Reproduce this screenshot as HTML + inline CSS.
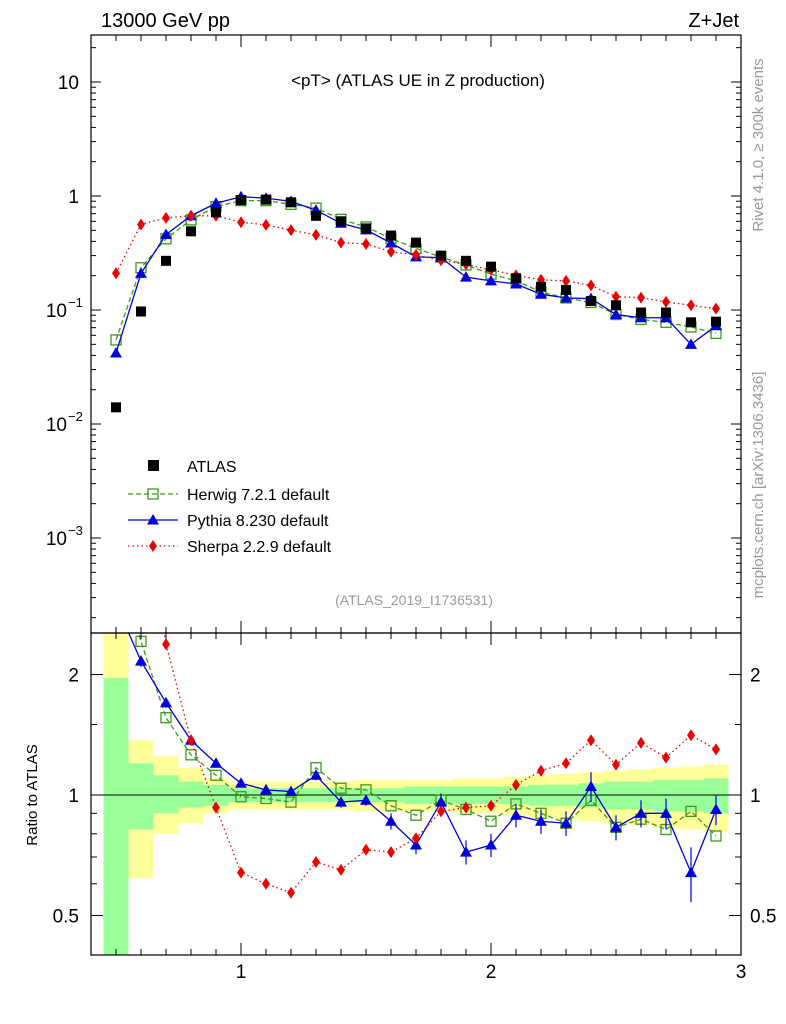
<!DOCTYPE html>
<html><head><meta charset="utf-8"><style>
body{margin:0;background:#fff;}
svg{display:block;font-family:"Liberation Sans",sans-serif;}
</style></head><body>
<svg id="c" width="786" height="1024" xmlns="http://www.w3.org/2000/svg"></svg>
<script>
const xs=[0.5,0.6,0.7,0.8,0.9,1.0,1.1,1.2,1.3,1.4,1.5,1.6,1.7,1.8,1.9,2.0,2.1,2.2,2.3,2.4,2.5,2.6,2.7,2.8,2.9];
const atlas=[0.014,0.097,0.27,0.49,0.72,0.92,0.93,0.88,0.67,0.60,0.52,0.45,0.39,0.30,0.27,0.24,0.19,0.16,0.15,0.12,0.11,0.095,0.095,0.078,0.079];
const herwigRatio=[3.9,2.42,1.56,1.26,1.12,0.99,0.98,0.96,1.17,1.04,1.03,0.94,0.89,0.97,0.92,0.86,0.95,0.90,0.85,0.97,0.83,0.87,0.82,0.91,0.79];
const pythiaRatio=[3.0,2.16,1.70,1.37,1.20,1.07,1.03,1.02,1.12,0.96,0.97,0.86,0.75,0.96,0.72,0.75,0.89,0.86,0.85,1.05,0.83,0.90,0.90,0.64,0.92];
const pythiaErr=[0.08,0.07,0.05,0.04,0.03,0.02,0.02,0.02,0.03,0.03,0.03,0.04,0.04,0.05,0.05,0.05,0.06,0.06,0.06,0.09,0.06,0.07,0.08,0.1,0.08];
const sherpaRatio=[15,5.8,2.38,1.37,0.93,0.64,0.60,0.57,0.68,0.65,0.73,0.72,0.78,0.91,0.93,0.94,1.06,1.15,1.20,1.37,1.19,1.35,1.24,1.41,1.30];
const yellowUp=[3,1.37,1.25,1.17,1.1,1.08,1.08,1.08,1.08,1.08,1.09,1.09,1.09,1.09,1.1,1.1,1.11,1.12,1.13,1.14,1.15,1.16,1.17,1.18,1.19];
const yellowLo=[0.3,0.62,0.8,0.85,0.9,0.92,0.92,0.92,0.92,0.92,0.91,0.91,0.91,0.91,0.9,0.9,0.89,0.88,0.87,0.86,0.85,0.84,0.83,0.82,0.81];
const greenUp=[1.96,1.2,1.12,1.08,1.06,1.04,1.04,1.04,1.04,1.04,1.04,1.04,1.05,1.05,1.05,1.05,1.05,1.06,1.06,1.07,1.08,1.08,1.09,1.09,1.1];
const greenLo=[0.3,0.82,0.9,0.93,0.94,0.96,0.96,0.96,0.96,0.96,0.96,0.96,0.95,0.95,0.95,0.95,0.95,0.94,0.94,0.93,0.92,0.92,0.91,0.91,0.9];
const NS="http://www.w3.org/2000/svg",svg=document.getElementById('c');
const X=v=>241+(v-1)*250;
const Y=v=>196-Math.log10(v)*114;
const R=v=>795-Math.log2(v)*120.5;
function el(t,a,p){const e=document.createElementNS(NS,t);for(const k in a)e.setAttribute(k,a[k]);(p||svg).appendChild(e);return e;}
function txt(s,a){const e=el('text',a);e.textContent=s;return e;}
// clips
const defs=el('defs',{});
const c1=el('clipPath',{id:'cm'},defs);el('rect',{x:91,y:35,width:650,height:598},c1);
const c2=el('clipPath',{id:'cr'},defs);el('rect',{x:91,y:633,width:650,height:322},c2);
const gm=el('g',{'clip-path':'url(#cm)'});
const gr=el('g',{'clip-path':'url(#cr)'});


// bands
xs.forEach((x,i)=>{
 let r=el('rect',{x:X(x-0.05),y:R(yellowUp[i]),width:25,height:R(yellowLo[i])-R(yellowUp[i]),fill:'#ffff99'},gr);
 
 r=el('rect',{x:X(x-0.05),y:R(greenUp[i]),width:25,height:R(greenLo[i])-R(greenUp[i]),fill:'#99ff99'},gr);
 
});
el('line',{x1:91,x2:741,y1:R(1),y2:R(1),stroke:'#000','stroke-width':1},gr);
// series
const ser=[
 {n:'herwig',r:herwigRatio,c:'#3a9a1a',d:'5,3',m:'sq'},
 {n:'pythia',r:pythiaRatio,c:'#0000dd',d:'',m:'tri'},
 {n:'sherpa',r:sherpaRatio,c:'#ee0000',d:'1.5,3',m:'dia'}];
function marker(g,m,c,x,y,name){
 let e;
 if(m==='sq')e=el('rect',{x:x-5,y:y-5,width:10,height:10,fill:'none',stroke:c,'stroke-width':1.3},g);
 else if(m==='tri')e=el('path',{d:`M${x},${y-6}L${x+6},${y+4.5}L${x-6},${y+4.5}Z`,fill:c},g);
 else e=el('path',{d:`M${x},${y-6}L${x+4},${y}L${x},${y+6}L${x-4},${y}Z`,fill:c},g);
 
}
ser.forEach(s=>{
 const mv=s.r.map((r,i)=>r*atlas[i]);
 let p1=el('polyline',{points:xs.map((x,i)=>X(x)+','+Y(mv[i])).join(' '),fill:'none',stroke:s.c,'stroke-width':1.3,'stroke-dasharray':s.d},gm);
 
 let p2=el('polyline',{points:xs.map((x,i)=>X(x)+','+R(s.r[i])).join(' '),fill:'none',stroke:s.c,'stroke-width':1.3,'stroke-dasharray':s.d},gr);
 
 xs.forEach((x,i)=>{
  marker(gm,s.m,s.c,X(x),Y(mv[i]),s.n+'-point');
  if(s.n==='pythia'){el('line',{x1:X(x),x2:X(x),y1:R(s.r[i]+pythiaErr[i]),y2:R(s.r[i]-pythiaErr[i]),stroke:s.c,'stroke-width':1.2},gr);}
  marker(gr,s.m,s.c,X(x),R(s.r[i]),s.n+'-ratio-point');
 });
});
xs.forEach((x,i)=>{const e=el('rect',{x:X(x)-5,y:Y(atlas[i])-5,width:10,height:10,fill:'#000'},gm);
 });
// frames
el('rect',{x:91,y:35,width:650,height:598,fill:'none',stroke:'#000','stroke-width':1.2});
el('rect',{x:91,y:633,width:650,height:322,fill:'none',stroke:'#000','stroke-width':1.2});
// log ticks main
for(let d=-4;d<=1;d++){for(let k=1;k<10;k++){const v=k*Math.pow(10,d);const y=Y(v);if(y<35||y>633)continue;const L=k===1?10:5;
 el('line',{x1:91,x2:91+L,y1:y,y2:y,stroke:'#000'});el('line',{x1:741,x2:741-L,y1:y,y2:y,stroke:'#000'});}}
const ytl=[[10,'10'],[1,'1'],[0.1,'10'],[0.01,'10'],[0.001,'10']];const yex=['','','−1','−2','−3'];
ytl.forEach((t,i)=>{const y=Y(t[0]);const e=txt(t[1],{x:yex[i]?67:79,y:y+7,'font-size':19,'text-anchor':'end'});
 
 if(yex[i]){const s=txt(yex[i],{x:68,y:y-3,'font-size':13});}});
// x ticks
for(let v=0.4;v<=3.001;v+=0.1){const x=X(v);const maj=Math.abs(v-Math.round(v))<0.01;const L=maj?12:6;
 [[633,-1],[955,-1]].forEach(([b,s])=>el('line',{x1:x,x2:x,y1:b,y2:b+s*L,stroke:'#000'}));
 el('line',{x1:x,x2:x,y1:35,y2:35+L,stroke:'#000'});el('line',{x1:x,x2:x,y1:633,y2:633+L,stroke:'#000'});}
[1,2,3].forEach(v=>{const e=txt(String(v),{x:X(v),y:978,'font-size':19,'text-anchor':'middle'});});
// ratio ticks
[0.5,0.6,0.7,0.8,0.9,1,1.5,2].forEach(v=>{const y=R(v);const L=(v===0.5||v===1||v===2)?12:6;
 el('line',{x1:91,x2:91+L,y1:y,y2:y,stroke:'#000'});el('line',{x1:741,x2:741-L,y1:y,y2:y,stroke:'#000'});});
[[2,'2'],[1,'1'],[0.5,'0.5']].forEach(t=>{const y=R(t[0])+7;
 let e=txt(t[1],{x:79,y,'font-size':19,'text-anchor':'end'});
 e=txt(t[1],{x:750,y,'font-size':19});});
// texts
let e;
e=txt('13000 GeV pp',{x:101,y:27,'font-size':20});
e=txt('Z+Jet',{x:739,y:27,'font-size':20,'text-anchor':'end'});
e=txt('<pT> (ATLAS UE in Z production)',{x:418,y:86,'font-size':17,'text-anchor':'middle'});
e=txt('(ATLAS_2019_I1736531)',{x:414,y:605,'font-size':14,'text-anchor':'middle',fill:'#999'});
e=txt('Rivet 4.1.0, ≥ 300k events',{x:0,y:0,'font-size':15,fill:'#999','text-anchor':'middle',transform:'translate(763,145) rotate(-90)'});
e=txt('mcplots.cern.ch [arXiv:1306.3436]',{x:0,y:0,'font-size':15,fill:'#999','text-anchor':'middle',transform:'translate(763,485) rotate(-90)'});
e=txt('Ratio to ATLAS',{x:0,y:0,'font-size':15,'text-anchor':'middle',transform:'translate(37,795) rotate(-90)'});
// legend
const lg=[['ATLAS',null],['Herwig 7.2.1 default',ser[0]],['Pythia 8.230 default',ser[1]],['Sherpa 2.2.9 default',ser[2]]];
const ly=[466,494,520,546];
lg.forEach((l,i)=>{const y=ly[i];
 if(!l[1]){const r=el('rect',{x:148,y:y-6,width:11,height:11,fill:'#000'});}
 else{el('line',{x1:128,x2:178,y1:y,y2:y,stroke:l[1].c,'stroke-width':1.3,'stroke-dasharray':l[1].d});marker(svg,l[1].m,l[1].c,153,y,'legend-marker');}
 const t=txt(l[0],{x:187,y:y+6,'font-size':16});});
</script>
</body></html>
